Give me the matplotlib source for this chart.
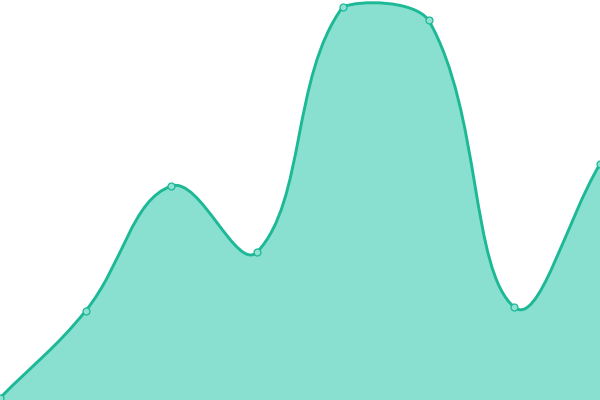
import numpy as np
import matplotlib
matplotlib.use("Agg")
import matplotlib.pyplot as plt
from matplotlib.path import Path
from matplotlib.patches import PathPatch

# data (y axis 0..100)
labels = ["A", "B", "C", "D", "E", "F", "G", "H"]
values = [0.5, 22.3, 53.5, 37.0, 98.3, 95.0, 23.2, 59.0]

line_color = "#1db896"
fill_color = "#89e0d1"
tension = 0.4


def spline_controls(pts, t, box):
    # chart.js style spline control points, capped to the plot area
    n = len(pts)
    prev_cp = np.zeros_like(pts)
    next_cp = np.zeros_like(pts)
    for i in range(n):
        cur = pts[i]
        prv = pts[i - 1] if i > 0 else cur
        nxt = pts[i + 1] if i < n - 1 else cur
        d01 = np.hypot(*(cur - prv))
        d12 = np.hypot(*(nxt - cur))
        tot = d01 + d12
        s01 = d01 / tot if tot else 0
        s12 = d12 / tot if tot else 0
        prev_cp[i] = cur - t * s01 * (nxt - prv)
        next_cp[i] = cur + t * s12 * (nxt - prv)
    x0, y0, x1, y1 = box
    for cp in (prev_cp, next_cp):
        cp[:, 0] = np.clip(cp[:, 0], x0, x1)
        cp[:, 1] = np.clip(cp[:, 1], y0, y1)
    return prev_cp, next_cp


fig = plt.figure(figsize=(6, 4), dpi=100)
ax = fig.add_axes([0, 0, 1, 1])
ax.set_xlim(0, len(values) - 1)
ax.set_ylim(0, 100)
ax.axis("off")

x = np.arange(len(values))
pix = ax.transData.transform(np.column_stack([x, values]))
bb = ax.bbox
prev_cp, next_cp = spline_controls(pix, tension, (bb.x0, bb.y0, bb.x1, bb.y1))

verts = [pix[0]]
codes = [Path.MOVETO]
for i in range(len(pix) - 1):
    verts += [next_cp[i], prev_cp[i + 1], pix[i + 1]]
    codes += [Path.CURVE4] * 3
inv = ax.transData.inverted()
verts = inv.transform(np.array(verts))

line_path = Path(verts, codes)
fill_verts = np.vstack([verts, [[x[-1], 0], [x[0], 0], verts[0]]])
fill_codes = codes + [Path.LINETO, Path.LINETO, Path.CLOSEPOLY]
fill_path = Path(fill_verts, fill_codes)

ax.add_patch(PathPatch(fill_path, facecolor=fill_color, edgecolor="none"))
ax.add_patch(PathPatch(line_path, facecolor="none", edgecolor=line_color,
                       lw=2.1, capstyle="round", joinstyle="round"))
ax.plot(x, values, "o", ms=5, mfc="#8fe2d3", mec=line_color, mew=0.9,
        clip_on=True)

fig.savefig("out.png", dpi=100)
